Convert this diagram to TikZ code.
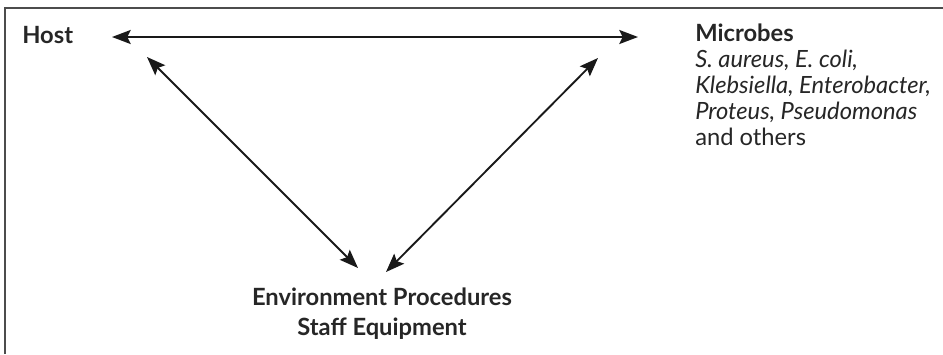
\documentclass[tikz,border=0pt]{standalone}
\usepackage{fontspec}
\setmainfont{Lato}
\usetikzlibrary{arrows.meta}

\begin{document}
\begin{tikzpicture}[x=0.75pt, y=-0.75pt,
  label/.style={inner sep=0pt, text=black!85, font=\fontsize{17.8}{19.5}\selectfont},
  link/.style={{Stealth[length=14pt,width=10.5pt,inset=2.5pt]}-{Stealth[length=14pt,width=10.5pt,inset=2.5pt]}, line width=1.4pt, black!90},
  frame/.style={line width=1.5pt, black!70}]
\useasboundingbox (0,0) rectangle (943,354);
\draw[frame] (5,354) -- (5,8) -- (943,8);

\node[label, anchor=base west, font=\fontsize{17.8}{19.5}\selectfont\bfseries] (host) at (22,43) {Host};
\node[label, anchor=north west, align=left] (microbes) at (695,24) {\bfseries Microbes\\\itshape S. aureus, E. coli,\\\itshape Klebsiella, Enterobacter,\\\itshape Proteus, Pseudomonas\\and others};
\node[label, anchor=north, align=center, font=\fontsize{17.8}{22.5}\selectfont\bfseries] (environment) at (382,288) {Environment Procedures\\Staff Equipment};

\draw[link] ([shift={(90,-6)}]host.base west) -- ([shift={(-57,13)}]microbes.north west);
\draw[link] ([shift={(125,14)}]host.base west) -- ([shift={(-24,-20)}]environment.north);
\draw[link] ([shift={(-97,34)}]microbes.north west) -- ([shift={(4,-16)}]environment.north);
\end{tikzpicture}
\end{document}
